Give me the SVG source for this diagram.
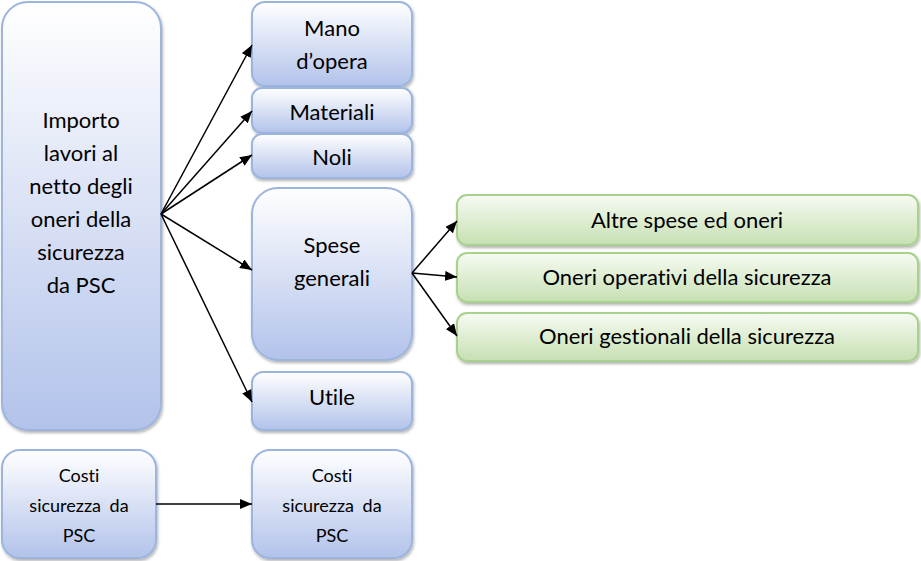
<svg xmlns="http://www.w3.org/2000/svg" width="921" height="561" viewBox="0 0 921 561">
<style>
.b{fill:url(#gb);stroke:#9bb5de;stroke-width:2;filter:url(#sh)}
.g{fill:url(#gg);stroke:#a9d18e;stroke-width:2;filter:url(#sh)}
text{font-family:Lato,"Open Sans","Liberation Sans",sans-serif;fill:#000;text-anchor:middle;font-variant-ligatures:none;font-feature-settings:"liga" 0}
.t{font-size:22px}
.s{font-size:18px}
.c line{stroke:#000;stroke-width:1.5;marker-end:url(#ah)}
</style>
<defs>
<linearGradient id="gb" x1="0" y1="0" x2="0" y2="1"><stop offset="0" stop-color="#ffffff"/><stop offset="1" stop-color="#b2c2ea"/></linearGradient>
<linearGradient id="gg" x1="0" y1="0" x2="0" y2="1"><stop offset="0" stop-color="#f7fbf3"/><stop offset="1" stop-color="#c6e0b2"/></linearGradient>
<filter id="sh" x="-10%" y="-10%" width="120%" height="130%"><feDropShadow dx="1" dy="2" stdDeviation="1.5" flood-color="#000" flood-opacity="0.3"/></filter>
<marker id="ah" viewBox="0 0 12 10" refX="12" refY="5" markerWidth="12" markerHeight="10" markerUnits="userSpaceOnUse" orient="auto"><path d="M0,0L12,5L0,10z" fill="#000"/></marker>
</defs>
<g id="importo"><rect class="b" x="2" y="2" width="159" height="428" rx="26"/>
<text class="t"><tspan x="81" y="128">Importo</tspan><tspan x="81" y="161">lavori al</tspan><tspan x="81" y="194">netto degli</tspan><tspan x="81" y="227">oneri della</tspan><tspan x="81" y="260">sicurezza</tspan><tspan x="81" y="293">da PSC</tspan></text></g>
<g id="mano"><rect class="b" x="252" y="2" width="160" height="84" rx="13"/><text class="t"><tspan x="332" y="36">Mano</tspan><tspan x="332" y="69">d’opera</tspan></text></g>
<g id="materiali"><rect class="b" x="252" y="88" width="160" height="45" rx="10"/><text class="t" x="332" y="120">Materiali</text></g>
<g id="noli"><rect class="b" x="252" y="134" width="160" height="44" rx="10"/><text class="t" x="332" y="165">Noli</text></g>
<g id="spese"><rect class="b" x="252" y="188" width="160" height="172" rx="26"/><text class="t"><tspan x="332" y="253">Spese</tspan><tspan x="332" y="286">generali</tspan></text></g>
<g id="utile"><rect class="b" x="252" y="372" width="160" height="58" rx="11"/><text class="t" x="332" y="405">Utile</text></g>
<g id="costi1"><rect class="b" x="2" y="450" width="154" height="108" rx="18"/><text class="s"><tspan x="79" y="482">Costi</tspan><tspan x="79" y="512" word-spacing="4">sicurezza da</tspan><tspan x="79" y="542">PSC</tspan></text></g>
<g id="costi2"><rect class="b" x="252" y="450" width="160" height="108" rx="18"/><text class="s"><tspan x="332" y="482">Costi</tspan><tspan x="332" y="512" word-spacing="4">sicurezza da</tspan><tspan x="332" y="542">PSC</tspan></text></g>
<g id="altre"><rect class="g" x="457" y="195" width="461" height="50" rx="10"/><text class="t" x="687" y="228">Altre spese ed oneri</text></g>
<g id="operativi"><rect class="g" x="457" y="253" width="461" height="49" rx="10"/><text class="t" x="687" y="285">Oneri operativi della sicurezza</text></g>
<g id="gestionali"><rect class="g" x="457" y="313" width="461" height="48" rx="10"/><text class="t" x="687" y="344">Oneri gestionali della sicurezza</text></g>
<g id="connectors" class="c">
<line x1="161" y1="214" x2="252" y2="45"/>
<line x1="161" y1="214" x2="252" y2="111"/>
<line x1="161" y1="214" x2="252" y2="155"/>
<line x1="161" y1="214" x2="252" y2="270"/>
<line x1="161" y1="214" x2="252" y2="402"/>
<line x1="412" y1="273" x2="457" y2="221"/>
<line x1="412" y1="273" x2="457" y2="277"/>
<line x1="412" y1="273" x2="457" y2="336"/>
<line x1="156" y1="504" x2="252" y2="504"/>
</g>
</svg>
